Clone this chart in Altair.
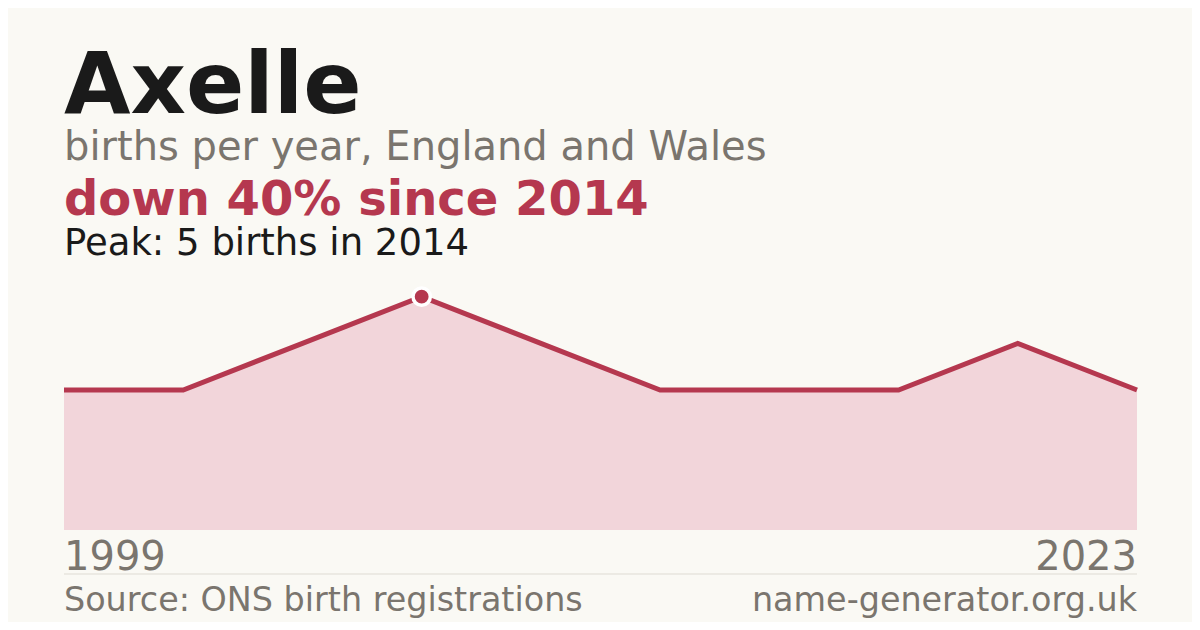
import altair as alt
import pandas as pd

# ---- data ----
years = [1999, 2004, 2011, 2014, 2015, 2017, 2019, 2020, 2021, 2023]
births = [3, 3, 4, 5, 4, 3, 3, 3, 4, 3]

title_text = "Axelle"
subtitle_text = "births per year, England and Wales"
change_text = "down 40% since 2014"
peak_text = "Peak: 5 births in 2014"
source_text = "Source: ONS birth registrations"
site_text = "name-generator.org.uk"

BG = "#faf9f4"
RED = "#b5384f"
AREA = "#f2d5da"
GREY = "#7a756e"
DARK = "#1a1a1a"
FONT = "DejaVu Sans"

W, H = 1073, 280

df = pd.DataFrame({"idx": list(range(len(years))), "year": years, "births": births})
peak_i = births.index(max(births))

base = alt.Chart(df)
xenc = alt.X("idx:Q", scale=alt.Scale(domain=[0, len(years) - 1], nice=False, zero=False), axis=None)
yenc = alt.Y("births:Q", scale=alt.Scale(domain=[0, 6], nice=False), axis=None)

area = base.mark_area(color=AREA, opacity=1).encode(x=xenc, y=yenc)
line = base.mark_line(color=RED, strokeWidth=5, strokeJoin="miter").encode(x=xenc, y=yenc)
peak = base.transform_filter(alt.datum.idx == peak_i).mark_point(
    filled=True, color=RED, size=300, stroke="white", strokeWidth=3.5, opacity=1
).encode(x=xenc, y=yenc)

first_lbl = base.transform_filter(alt.datum.idx == 0).mark_text(
    align="left", baseline="alphabetic", fontSize=40, font=FONT, color=GREY
).encode(x=xenc, y=alt.value(320), text="year:N")
last_lbl = base.transform_filter(alt.datum.idx == len(years) - 1).mark_text(
    align="right", baseline="alphabetic", fontSize=40, font=FONT, color=GREY
).encode(x=xenc, y=alt.value(320), text="year:N")

one = alt.Chart(pd.DataFrame({"k": [0]}))


def label(txt, y, size, color, weight="normal", align="left", x=0):
    return one.mark_text(
        text=txt, align=align, baseline="alphabetic", fontSize=size, font=FONT,
        color=color, fontWeight=weight
    ).encode(x=alt.value(x), y=alt.value(y))


t_title = label(title_text, -137, 86, DARK, "bold")
t_sub = label(subtitle_text, -90, 40, GREY)
t_change = label(change_text, -35, 48, RED, "bold")
t_peak = label(peak_text, 5, 37, DARK)
t_source = label(source_text, 361, 33.4, GREY)
t_site = label(site_text, 361, 33.4, GREY, align="right", x=W)

rule = one.mark_rule(color="#dedbd3", strokeWidth=1).encode(
    x=alt.value(0), x2=alt.value(W), y=alt.value(324)
)

chart = alt.layer(
    area, line, peak, first_lbl, last_lbl, rule,
    t_title, t_sub, t_change, t_peak, t_source, t_site
).properties(
    width=W, height=H,
    autosize=alt.AutoSizeParams(type="none"),
    padding={"left": 56, "top": 242, "right": 55, "bottom": 92},
    background=BG,
).configure_view(stroke=None)

chart.save("out.html", embed_options={"renderer": "svg", "actions": False})
